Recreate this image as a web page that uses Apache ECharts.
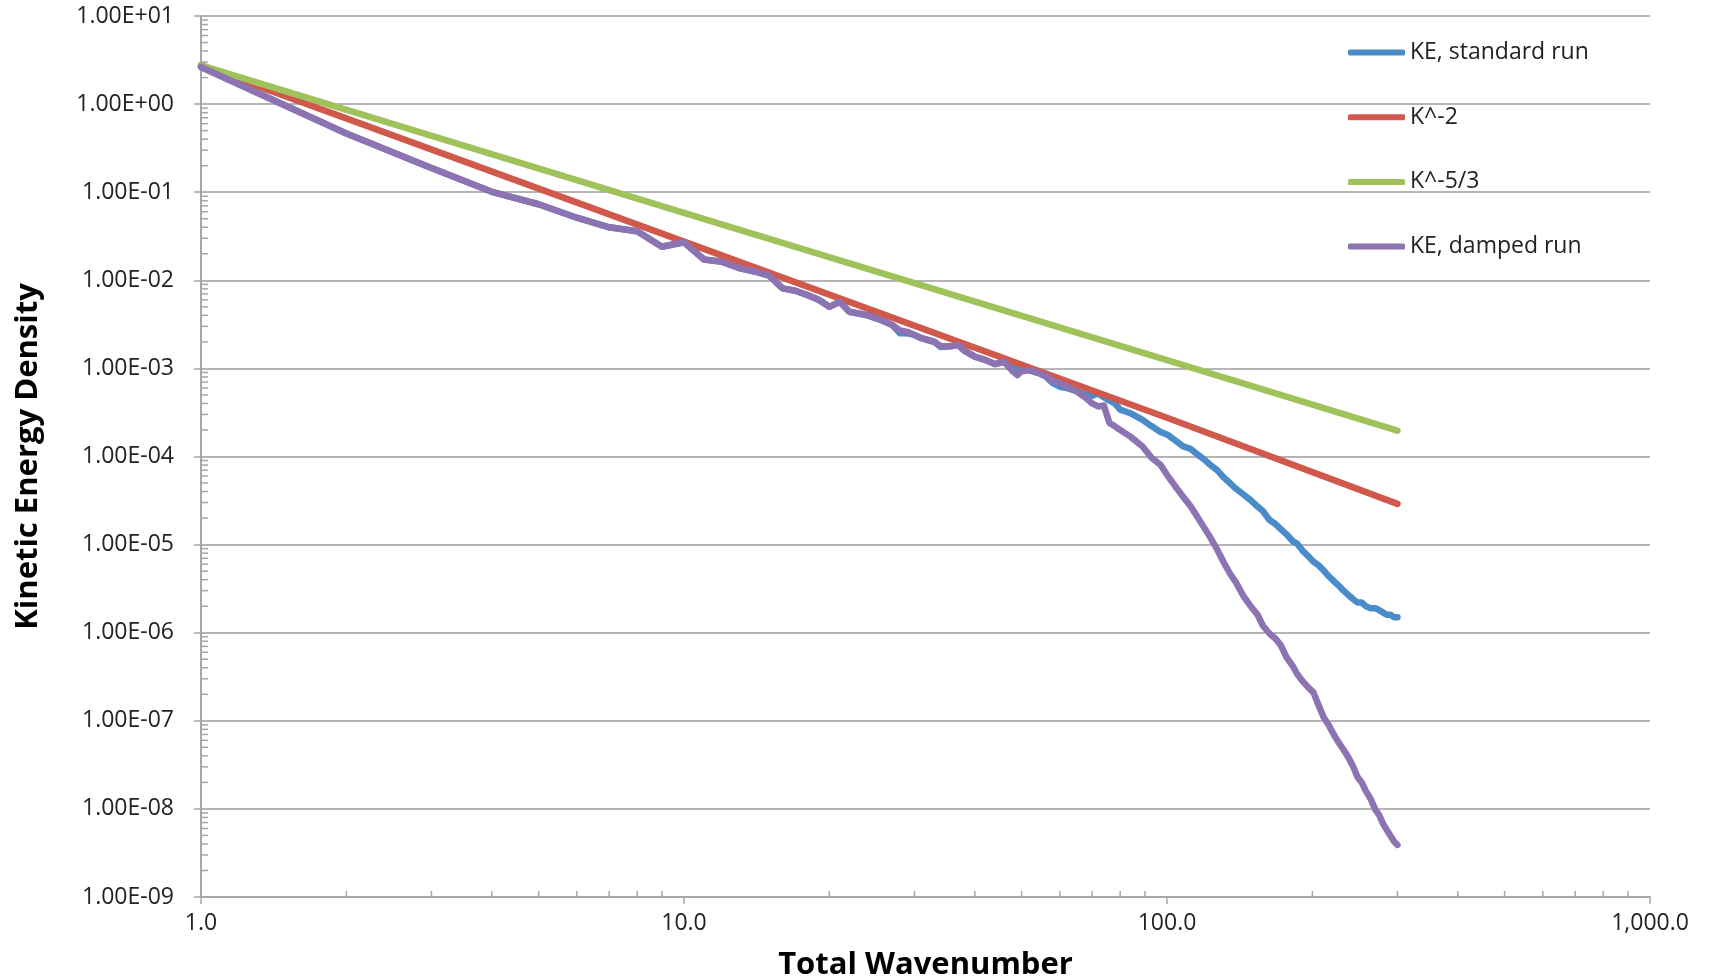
<!DOCTYPE html>
<html>
<head>
<meta charset="utf-8">
<script src="https://cdn.jsdelivr.net/npm/echarts@6/dist/echarts.min.js"></script>
<style>
html,body{margin:0;padding:0;background:#fff;}
#chart{width:1710px;height:980px;}
</style>
</head>
<body>
<div id="chart"></div>
<script>
// ---- data ----
const wavenumber = [1,2,3,4,5,6,7,8,9,10,11,12,13,14,15,16,17,18,19,20,21,22,23,24,25,26,27,28,29,30,31,32,33,34,35,36,37,38,40,42,44,46,47,48,49,50,52,54,56,58,60,62,65,68,70,72,74,76,78,80,84,89,93,97,100,104,108,112,116,119,123,127,131,135,139,144,149,154,158,163,168,172,177,182,186,191,196,201,206,211,216,222,227,232,237,243,248,253,258,264,270,275,280,285,290,295,300];
const keStandard = [2.64,0.464,0.188,0.101,0.073,0.0513,0.040,0.036,0.024,0.027,0.0172,0.0162,0.0138,0.0126,0.0113,0.0081,0.0076,0.0068,0.0060,0.0050,0.0057,0.0044,0.0042,0.0040,0.0037,0.0034,0.0031,0.0025,0.0025,0.0024,0.0022,0.0021,0.0020,0.00175,0.00177,0.0018,0.00185,0.0016,0.00136,0.00125,0.00112,0.00119,0.00105,0.00100,0.00101,0.00105,0.00095,0.00089,0.00082,0.00068,0.00062,0.00060,0.00055,0.00050,0.00049,0.00052,0.00047,0.00043,0.00040,0.00034,0.00031,0.00026,0.00022,0.00019,0.000178,0.000152,0.000130,0.000122,0.000104,0.000094,0.000080,0.000070,0.000058,0.000050,0.000043,0.000037,0.000032,0.000027,0.000024,0.000019,0.000017,0.000015,0.000013,0.000011,0.0000102,0.0000085,0.0000074,0.0000064,0.0000058,0.0000051,0.0000044,0.0000038,0.0000034,0.0000030,0.0000027,0.0000024,0.0000022,0.0000022,0.0000020,0.0000019,0.0000019,0.0000018,0.0000017,0.0000016,0.0000016,0.0000015,0.0000015];
const keDamped = [2.64,0.464,0.188,0.101,0.073,0.0513,0.040,0.036,0.024,0.027,0.0172,0.0162,0.0138,0.0126,0.0113,0.0081,0.0076,0.0068,0.0060,0.0050,0.0057,0.0044,0.0042,0.0040,0.0037,0.0034,0.0031,0.0027,0.0026,0.0024,0.0022,0.0021,0.0020,0.0018,0.00177,0.0018,0.00185,0.0016,0.00136,0.00125,0.00112,0.00119,0.00105,0.00092,0.00084,0.00093,0.00095,0.00089,0.00082,0.00072,0.00068,0.00062,0.00055,0.00046,0.00040,0.00037,0.00038,0.00024,0.00022,0.00020,0.000168,0.00013,0.000096,0.000080,0.000062,0.000046,0.000035,0.000027,0.000020,0.000016,0.000012,0.0000088,0.0000063,0.0000047,0.0000037,0.0000026,0.0000020,0.0000016,0.0000012,0.00000098,0.00000085,0.00000072,0.00000052,0.00000042,0.00000034,0.00000028,0.00000024,0.00000021,0.00000015,0.00000011,0.000000090,0.000000068,0.000000056,0.000000047,0.000000039,0.000000030,0.000000023,0.000000020,0.000000016,0.000000013,0.0000000098,0.0000000085,0.0000000068,0.0000000058,0.0000000050,0.0000000043,0.0000000039];
const refK = [1,10,100,300];
const kMinus2 = [2.75,0.0275,0.000275,0.000029];
const kMinus53 = [2.75,0.0583,0.00124,0.000197];
const seriesNames = ['KE, standard run','K^-2','K^-5/3','KE, damped run'];
const xTickLabels = ['1.0','10.0','100.0','1,000.0'];          // 10^0 .. 10^3
const yTickLabels = ['1.00E-09','1.00E-08','1.00E-07','1.00E-06','1.00E-05','1.00E-04','1.00E-03','1.00E-02','1.00E-01','1.00E+00','1.00E+01']; // 10^-9 .. 10^1
const xTitle = 'Total Wavenumber';
const yTitle = 'Kinetic Energy Density';

// ---- styles ----
const colors = ['#4a8cc9','#d0594c','#9fc35a','#8d73b2'];
const FONT = '"Open Sans", "Noto Sans", sans-serif';
const AXIS_GRAY = '#a6a6a6';

function pairs(xs, ys){ return xs.map((x,i)=>[x, ys[i]]); }

// minor tick positions (2..9 within each decade)
const xMinorVals = [], yMinorVals = [];
for (let e = 0; e < 3; e++) for (let m = 2; m <= 9; m++) xMinorVals.push(m*Math.pow(10,e));
for (let e = -9; e < 1; e++) for (let m = 2; m <= 9; m++) yMinorVals.push(m*Math.pow(10,e));

const chart = echarts.init(document.getElementById('chart'), null, {renderer:'canvas'});
const lineSeries = (name, data, color) => ({
  name, type:'line', data, symbol:'none', smooth:false,
  color, lineStyle:{width:6.5, color, cap:'round', join:'round'},
  emphasis:{disabled:true}, z:3
});

chart.setOption({
  animation:false,
  backgroundColor:'#ffffff',
  grid:{left:201, right:60, top:16, bottom:83, containLabel:false, outerBoundsMode:'none'},
  legend:{
    data:seriesNames, orient:'vertical', left:1348, top:40, padding:0,
    itemWidth:57, itemHeight:6, itemGap:39.7, icon:'roundRect',
    textStyle:{fontFamily:FONT, fontSize:23, color:'#222', lineHeight:25},
    selectedMode:false
  },
  xAxis:{
    type:'log', logBase:10, min:1, max:1000, interval:1,
    name:xTitle, nameLocation:'middle', nameGap:53,
    nameTextStyle:{fontFamily:FONT, fontSize:31, fontWeight:'bold', color:'#000'},
    axisLine:{show:true, lineStyle:{color:AXIS_GRAY, width:2}},
    axisTick:{show:true, length:7, inside:false, lineStyle:{color:AXIS_GRAY, width:1.5}},
    axisLabel:{margin:15, fontFamily:FONT, fontSize:23, color:'#222',
      formatter:(v)=>xTickLabels[Math.round(Math.log10(v))]},
    splitLine:{show:false}
  },
  yAxis:{
    type:'log', logBase:10, min:1e-9, max:10, interval:1,
    name:yTitle, nameLocation:'middle', nameGap:157, nameRotate:90,
    nameTextStyle:{fontFamily:FONT, fontSize:31, fontWeight:'bold', color:'#000'},
    axisLine:{show:true, lineStyle:{color:AXIS_GRAY, width:2}},
    axisTick:{show:true, length:7, inside:false, lineStyle:{color:AXIS_GRAY, width:1.5}},
    axisLabel:{margin:27, fontFamily:FONT, fontSize:23, color:'#222',
      formatter:(v)=>yTickLabels[Math.round(Math.log10(v))+9]},
    splitLine:{show:true, lineStyle:{color:'#b5b5b5', width:2}}
  },
  series:[
    {
      type:'custom', name:'xMinor', silent:true, z:1, clip:false,
      data:xMinorVals.map(v=>[v,1e-9]),
      renderItem:(params, api)=>{
        const p = api.coord([api.value(0), api.value(1)]);
        return {type:'line', shape:{x1:p[0], y1:p[1], x2:p[0], y2:p[1]-6},
          style:{stroke:AXIS_GRAY, lineWidth:1.5}};
      }
    },
    {
      type:'custom', name:'yMinor', silent:true, z:1, clip:false,
      data:yMinorVals.map(v=>[1,v]),
      renderItem:(params, api)=>{
        const p = api.coord([api.value(0), api.value(1)]);
        return {type:'line', shape:{x1:p[0], y1:p[1], x2:p[0]+7, y2:p[1]},
          style:{stroke:AXIS_GRAY, lineWidth:1.5}};
      }
    },
    lineSeries(seriesNames[0], pairs(wavenumber, keStandard), colors[0]),
    lineSeries(seriesNames[1], pairs(refK, kMinus2), colors[1]),
    lineSeries(seriesNames[2], pairs(refK, kMinus53), colors[2]),
    lineSeries(seriesNames[3], pairs(wavenumber, keDamped), colors[3])
  ]
});
</script>
</body>
</html>
